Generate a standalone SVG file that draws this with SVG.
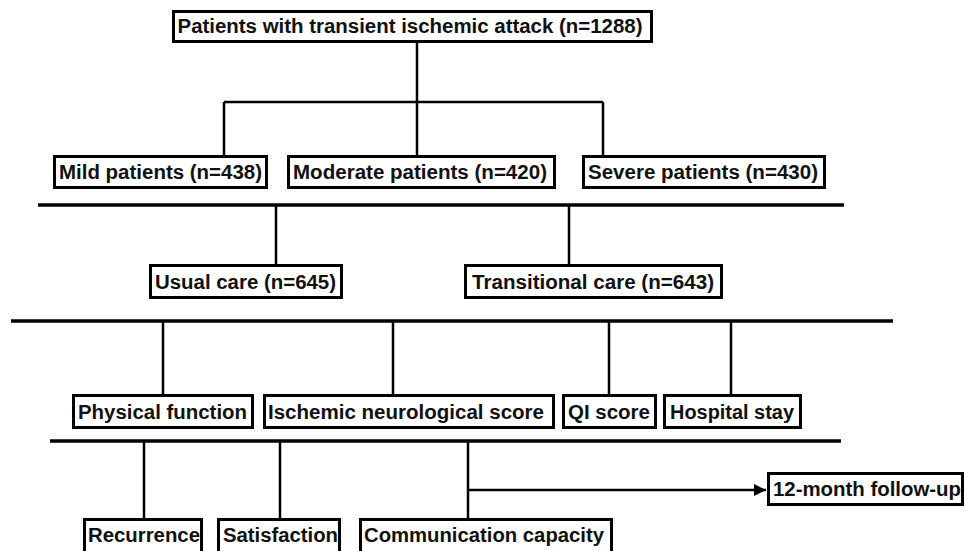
<svg xmlns="http://www.w3.org/2000/svg" width="966" height="551" viewBox="0 0 966 551">
<style>
.box{fill:#fff;stroke:#000;stroke-width:3}
.t{font-family:"Liberation Sans",Arial,sans-serif;font-weight:bold;font-size:20px;fill:#111;text-anchor:middle}
.ln{stroke:#000;stroke-width:2.5;fill:none}
.hl{stroke:#000;stroke-width:3.5;fill:none}
</style>
<defs>
<marker id="arr" markerWidth="13" markerHeight="13" refX="12" refY="6" orient="auto" markerUnits="userSpaceOnUse">
<path d="M0,0 L12,6 L0,12 z" fill="#000"/>
</marker>
</defs>
<g id="connectors">
<path class="ln" d="M417,43 V102 M224,102 H603 M224,102 V155 M417,102 V155 M603,102 V155"/>
<path class="hl" d="M38,205 H844"/>
<path class="ln" d="M276,205 V264 M569,205 V264"/>
<path class="hl" d="M11,321 H893"/>
<path class="ln" d="M163,321 V394 M393,321 V394 M609,321 V394 M731,321 V394"/>
<path class="hl" d="M50,441 H841"/>
<path class="ln" d="M144,441 V519 M280,441 V519 M468,441 V519"/>
<path class="ln" d="M468,490 H766" marker-end="url(#arr)"/>
</g>
<g id="n_top"><rect class="box" x="173.5" y="11.5" width="478" height="30"/><text class="t" x="410" y="33" textLength="465" lengthAdjust="spacingAndGlyphs">Patients with transient ischemic attack (n=1288)</text></g>
<g id="n_mild"><rect class="box" x="54.5" y="156.5" width="212" height="31"/><text class="t" x="160.5" y="179" textLength="203" lengthAdjust="spacingAndGlyphs">Mild patients (n=438)</text></g>
<g id="n_moderate"><rect class="box" x="288.5" y="156.5" width="266" height="31"/><text class="t" x="420" y="179" textLength="254" lengthAdjust="spacingAndGlyphs">Moderate patients (n=420)</text></g>
<g id="n_severe"><rect class="box" x="583.5" y="156.5" width="241" height="31"/><text class="t" x="703" y="179" textLength="230" lengthAdjust="spacingAndGlyphs">Severe patients (n=430)</text></g>
<g id="n_usual"><rect class="box" x="150.5" y="265.5" width="191" height="32"/><text class="t" x="245.5" y="289" textLength="181" lengthAdjust="spacingAndGlyphs">Usual care (n=645)</text></g>
<g id="n_transitional"><rect class="box" x="465.5" y="265.5" width="256" height="32"/><text class="t" x="593" y="289" textLength="242" lengthAdjust="spacingAndGlyphs">Transitional care (n=643)</text></g>
<g id="n_physical"><rect class="box" x="73.5" y="395.5" width="179" height="32"/><text class="t" x="162.5" y="419" textLength="169" lengthAdjust="spacingAndGlyphs">Physical function</text></g>
<g id="n_ischemic"><rect class="box" x="264.5" y="395.5" width="289" height="32"/><text class="t" x="406" y="419" textLength="276" lengthAdjust="spacingAndGlyphs">Ischemic neurological score</text></g>
<g id="n_qi"><rect class="box" x="563.5" y="395.5" width="92" height="32"/><text class="t" x="609" y="419" textLength="82" lengthAdjust="spacingAndGlyphs">QI score</text></g>
<g id="n_hospital"><rect class="box" x="664.5" y="395.5" width="136" height="32"/><text class="t" x="732" y="419" textLength="124" lengthAdjust="spacingAndGlyphs">Hospital stay</text></g>
<g id="n_followup"><rect class="box" x="768.5" y="473.5" width="194" height="31"/><text class="t" x="867" y="496" textLength="188" lengthAdjust="spacingAndGlyphs">12-month follow-up</text></g>
<g id="n_recurrence"><rect class="box" x="84.5" y="519.5" width="117" height="34"/><text class="t" x="144" y="542" textLength="112" lengthAdjust="spacingAndGlyphs">Recurrence</text></g>
<g id="n_satisfaction"><rect class="box" x="218.5" y="519.5" width="121" height="34"/><text class="t" x="280.5" y="542" textLength="115" lengthAdjust="spacingAndGlyphs">Satisfaction</text></g>
<g id="n_communication"><rect class="box" x="360.5" y="519.5" width="251" height="34"/><text class="t" x="484" y="542" textLength="240" lengthAdjust="spacingAndGlyphs">Communication capacity</text></g>
</svg>
